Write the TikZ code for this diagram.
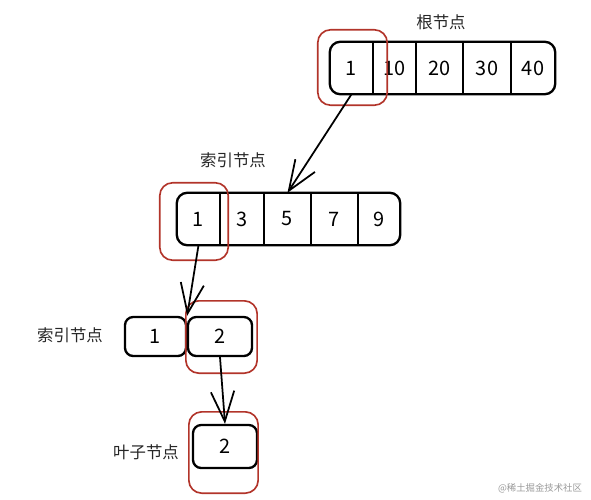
\documentclass[tikz,border=0pt]{standalone}
\usepackage{fontspec}
\newfontfamily\cjk{Noto Sans CJK SC}
\usetikzlibrary{arrows.meta,calc}
\definecolor{hlred}{RGB}{178,52,42}
\tikzset{
  cell/.style={minimum height=1.56cm, inner sep=0pt, font=\cjk\fontsize{17}{18}\selectfont},
  small/.style={draw, line width=2pt, rounded corners=7pt, minimum height=1.17cm, inner sep=0pt, font=\cjk\fontsize{17}{18}\selectfont},
  outer/.style={line width=2pt, rounded corners=9pt},
  sep/.style={line width=1.5pt},
  hl/.style={draw=hlred, line width=1.4pt, rounded corners=11pt},
  lab/.style={font=\cjk\fontsize{14}{16}\selectfont, black!85},
  link/.style={line width=1.5pt, -{Straight Barb[length=0.9cm, width=0.7cm]}}
}
\begin{document}
\begin{tikzpicture}[x=0.03cm, y=-0.03cm]
\useasboundingbox (0,0) rectangle (591,499);
% root node
\node[cell, minimum width=1.29cm] (r1) at (351.5,68) {1};
\node[cell, minimum width=1.29cm] (r2) at (394.5,68) {10};
\node[cell, minimum width=1.41cm] (r3) at (439.5,68) {20};
\node[cell, minimum width=1.44cm] (r4) at (487,68) {30};
\node[cell, minimum width=1.32cm] (r5) at (533,68) {40};
\draw[outer] (r1.north west) rectangle (r5.south east);
\foreach \c in {r1,r2,r3,r4}
  \draw[sep] (\c.north east) -- (\c.south east);
\node[lab] (rootlab) at (441,22) {根节点};
% index node
\node[cell, minimum width=1.29cm] (i1) at (198.5,219) {1};
\node[cell, minimum width=1.32cm] (i2) at (242,219) {3};
\node[cell, minimum width=1.41cm] (i3) at (287.5,219) {5};
\node[cell, minimum width=1.41cm] (i4) at (334.5,219) {7};
\node[cell, minimum width=1.26cm] (i5) at (379,219) {9};
\draw[outer] (i1.north west) rectangle (i5.south east);
\foreach \c in {i1,i2,i3,i4}
  \draw[sep] (\c.north east) -- (\c.south east);
\node[lab] (idxlab) at (233,160) {索引节点};
% second index node
\node[small, minimum width=1.83cm] (n1) at (155.5,336.5) {1};
\node[small, minimum width=1.92cm] (n2) at (220,336.5) {2};
\node[lab] (idxlab2) at (70,335) {索引节点};
% leaf
\node[small, minimum width=1.92cm, minimum height=1.29cm] (leaf) at (225,446.5) {2};
\node[lab] (leaflab) at (146,452) {叶子节点};
% highlights
\draw[hl] ($(r1.south west)+(-12,11)$) rectangle ($(r1.north east)+(14,-12)$);
\draw[hl] ($(i1.south west)+(-17,15)$) rectangle ($(i1.north east)+(8,-10)$);
\draw[hl] ($(n2.south west)+(-1,16)$) rectangle ($(n2.north east)+(4,-15)$);
\draw[hl] ($(leaf.south west)+(-3,24)$) rectangle ($(leaf.north east)+(0,-12)$);
% arrows
\draw[link] (r1.south) -- (i3.north);
\draw[link] (i1.south) -- (n1.north east);
\draw[link] (n2.south) -- (leaf.north);
\node[font=\cjk\fontsize{8}{9}\selectfont, black!40] (mark) at (540,488) {@稀土掘金技术社区};
\end{tikzpicture}
\end{document}
